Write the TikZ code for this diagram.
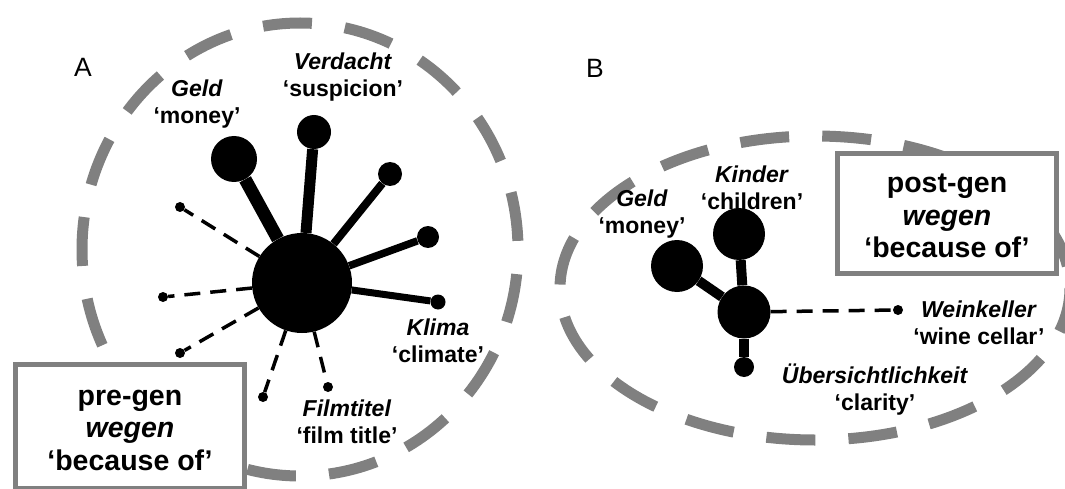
\documentclass[tikz,border=0pt]{standalone}
\usepackage{fontspec}
\setmainfont{Liberation Sans}
\usepackage{tikz}

\begin{document}
\begin{tikzpicture}[x=1pt,y=-1pt,
        blob/.style={circle,fill=black,inner sep=0pt,minimum size=#1},
        ring/.style={draw=gray,line width=11pt,dash pattern=on 49pt off 33.15pt},
        weak/.style={line width=3.5pt,dash pattern=on 16pt off 10pt},
        lab/.style={align=center,inner sep=0pt,font=\fontsize{23}{27}\selectfont\bfseries},
        genbox/.style={draw=gray,line width=5pt,fill=white},
        boxtext/.style={align=center,inner sep=0pt,font=\fontsize{28.5}{32.5}\selectfont\bfseries},
        panel/.style={font=\fontsize{26.5}{30}\selectfont}]
                \useasboundingbox (0,0) rectangle (1065,489);
                %rings
                \draw[ring,dash phase=73.5pt] (300,249.5) ellipse [x radius=218pt, y radius=226.5pt];
                \draw[ring,dash phase=60pt] (815,288) ellipse [x radius=255pt, y radius=152pt];
                %panel letters
                \node[panel] (panelA) at (83,67) {A};
                \node[panel] (panelB) at (595,68) {B};
                %labels A
                \node[lab] (geldLabA) at (197,104) {\textit{Geld}\\‘money’};
                \node[lab] (verdachtLabA) at (343,77) {\textit{Verdacht}\\‘suspicion’};
                \node[lab] (klimaLabA) at (438,341) {\textit{Klima}\\‘climate’};
                \node[lab] (filmLabA) at (347,422) {\textit{Filmtitel}\\‘film title’};
                %labels B
                \node[lab] (geldLabB) at (642,214) {\textit{Geld}\\‘money’};
                \node[lab] (kinderLabB) at (752,188) {\textit{Kinder}\\‘children’};
                \node[lab] (weinLabB) at (979,323) {\textit{Weinkeller}\\‘wine cellar’};
                \node[lab] (uebLabB) at (875,390) {\textit{Übersichtlichkeit}\\‘clarity’};
                %network A
                \node[blob=100pt] (hubA) at (302,283) {};
                \node[blob=46pt] (geldA) at (234,159) {};
                \node[blob=34pt] (verdachtA) at (314,132) {};
                \node[blob=24pt] (midA) at (390,174) {};
                \node[blob=22pt] (rightA) at (428,237) {};
                \node[blob=15pt] (klimaA) at (438,302) {};
                \draw[line width=13pt] (hubA) -- (geldA);
                \draw[line width=11pt] (hubA) -- (verdachtA);
                \draw[line width=8pt] (hubA) -- (midA);
                \draw[line width=7.5pt] (hubA) -- (rightA);
                \draw[line width=7pt] (hubA) -- (klimaA);
                \foreach \n/\x/\y in {lowA1/180/207, lowA2/163/297, lowA3/180/353, lowA4/263/397, filmA/328/387}
                    {
                    \node[blob=10pt] (\n) at (\x,\y) {};
                    \draw[weak] (hubA) -- (\n);
                    }
                %network B
                \node[blob=53pt] (hubB) at (744,312) {};
                \node[blob=52pt] (kinderB) at (739,234) {};
                \node[blob=52pt] (geldB) at (677,266) {};
                \node[blob=20pt] (uebB) at (744,367) {};
                \node[blob=10pt] (weinB) at (898,310) {};
                \draw[line width=10pt] (hubB) -- (kinderB);
                \draw[line width=10pt] (hubB) -- (geldB);
                \draw[line width=10pt] (hubB) -- (uebB);
                \draw[weak] (hubB) -- (weinB);
                %boxes
                \node[genbox,minimum width=229pt,minimum height=124pt] (preBox) at (130,426.5) {};
                \node[boxtext] (preText) at (130,430) {pre-gen\\\textit{wegen}\\‘because of’};
                \node[genbox,minimum width=219pt,minimum height=120pt] (postBox) at (947,213.5) {};
                \node[boxtext] (postText) at (947,216) {post-gen\\\textit{wegen}\\‘because of’};
            \end{tikzpicture}
\end{document}
